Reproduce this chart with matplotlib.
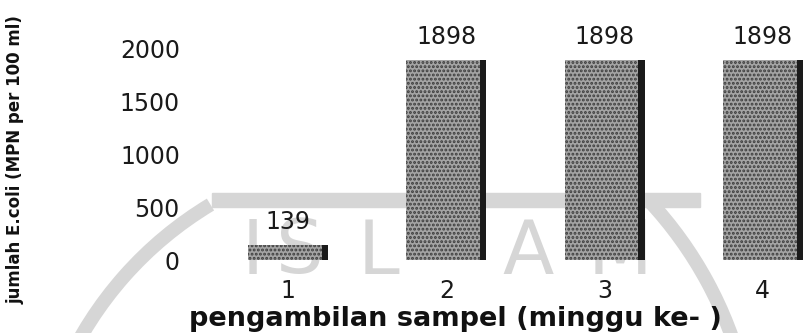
import matplotlib
matplotlib.use("Agg")
import matplotlib.pyplot as plt
from matplotlib.patches import Arc, Rectangle

# ---- data ----
categories = ["1", "2", "3", "4"]
values = [139, 1898, 1898, 1898]
yticks = [0, 500, 1000, 1500, 2000]
xlabel = "pengambilan sampel (minggu ke- )"
ylabel = "jumlah E.coli (MPN per 100 ml)"

W, H = 805, 333
fig = plt.figure(figsize=(W / 100, H / 100), dpi=100)
fig.patch.set_facecolor("white")

def fx(px):
    return px / W

def fy(py):
    return 1 - py / H

# ---- faint watermark (decoration, behind everything) ----
wm = "#d6d6d6"
fig.patches.append(Rectangle((fx(212), fy(207)), fx(700) - fx(212), 14 / H,
                             transform=fig.transFigure, color=wm, zorder=-2))
for (cx, cy, r), (t1, t2) in [((400, 520, 368), (121, 156)),
                             ((360, 470, 395), (14, 43))]:
    fig.patches.append(Arc((cx / 100, (H - cy) / 100), 2 * r / 100, 2 * r / 100,
                           theta1=t1, theta2=t2, transform=fig.dpi_scale_trans,
                           color=wm, lw=10, zorder=-2))
for ch, x in [("I", 253), ("S", 300), ("L", 378), ("A", 528), ("M", 620)]:
    fig.text(fx(x), fy(253), ch, color=wm, fontsize=54, ha="center",
             va="center", zorder=-2)

# ---- axes ----
ax = fig.add_axes([fx(209), fy(260), fx(633), (260 - 49) / H])
ax.set_zorder(1)
ax.set_facecolor("none")
ax.set_xlim(0.5, 4.5)
ax.set_ylim(0, 2000)

xs = list(range(1, len(values) + 1))
bw = 0.505
strip = 0.04
plt.rcParams["hatch.linewidth"] = 1.4
ax.bar([x - bw / 2 for x in xs], values, width=bw - strip, align="edge",
       color="#a4a4a4", edgecolor="#3c3c3c", hatch="....", linewidth=0,
       zorder=2)
ax.bar([x + bw / 2 - strip for x in xs], values, width=strip, align="edge",
       color="#1a1a1a", linewidth=0, zorder=3)

for x, v in zip(xs, values):
    ax.annotate(f"{v}", (x, v), xytext=(0, 8), textcoords="offset points",
                ha="center", va="bottom", fontsize=17, color="#1a1a1a",
                clip_on=False)

for s in ax.spines.values():
    s.set_visible(False)
ax.set_yticks(yticks)
ax.set_yticklabels([str(t) for t in yticks])
ax.set_xticks(xs)
ax.set_xticklabels(categories)
ax.tick_params(axis="y", length=0, pad=21, labelsize=17, labelcolor="#1a1a1a")
ax.tick_params(axis="x", length=0, pad=14, labelsize=17, labelcolor="#1a1a1a")

fig.text(fx(455), fy(319), xlabel, ha="center", va="center",
         fontsize=19.5, fontweight="bold", color="#111111", zorder=2)
fig.text(fx(16), fy(160), ylabel, ha="center", va="center", rotation=90,
         fontsize=12, fontweight="bold", color="#111111", zorder=2)

fig.savefig("out.png", dpi=100)
